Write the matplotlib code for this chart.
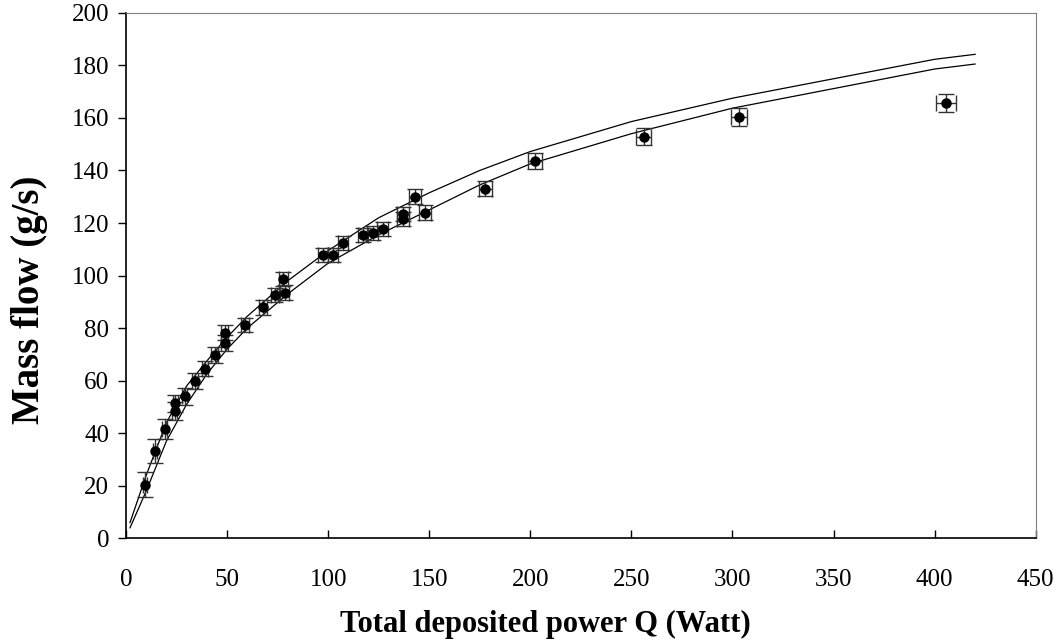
import matplotlib
matplotlib.use("Agg")
import matplotlib.pyplot as plt

# measured points: deposited power Q (W) vs mass flow (g/s)
power = [9.4, 14.2, 19.2, 24.1, 24.3, 29.1, 34.1, 39.0, 43.9, 48.9, 48.9, 58.9,
         67.8, 73.6, 77.7, 78.6, 97.4, 102.3, 107.3, 117.2, 122.1, 127.1, 137.0,
         137.0, 142.9, 148.0, 177.7, 202.5, 256.0, 303.3, 405.8]
flow = [20.4, 33.3, 41.6, 48.5, 51.4, 54.0, 59.8, 64.6, 69.7, 74.2, 78.3, 81.2,
        87.9, 92.6, 98.7, 93.5, 107.8, 107.8, 112.5, 115.5, 116.3, 117.7, 121.5,
        123.4, 130.0, 123.9, 133.0, 143.7, 152.8, 160.3, 165.6]
flow_err = [4.8, 4.6, 3.8, 3.3, 3.3, 3.2, 3.0, 3.0, 3.0, 3.0, 3.0, 2.8, 2.8, 2.8,
            2.8, 2.8, 2.6, 2.6, 2.6, 2.6, 2.6, 2.6, 2.8, 2.8, 2.8, 2.8, 2.9, 3.0,
            3.3, 3.5, 3.5]
power_err = [1.0, 1.0, 1.2, 1.2, 1.2, 1.3, 1.4, 1.5, 1.6, 1.7, 1.7, 1.9, 2.0, 2.1,
             2.2, 2.2, 2.5, 2.5, 2.5, 2.6, 2.7, 2.7, 2.8, 2.8, 2.9, 3.0, 3.3, 3.5,
             3.5, 4.0, 5.0]

# model curves
q_model = [2, 10, 20, 30, 40, 50, 60, 80, 100, 125, 150, 175, 200, 250, 300, 400, 420]
upper = [6, 24, 44, 58, 67.5, 76.5, 84.5, 98, 109.5, 122, 131.5, 140, 147.2, 158.6,
         167.5, 182.3, 184.2]
lower = [4, 18, 37, 51, 62.5, 72, 80, 93, 104.7, 115.5, 125, 134.5, 142.5, 154,
         163.7, 178.6, 180.5]

plt.rcParams['font.family'] = ['Liberation Serif', 'DejaVu Serif']

fig = plt.figure(figsize=(10.56, 6.43), dpi=100)
ax = fig.add_axes([0.1193, 0.1628, 0.8615, 0.8173])

ax.plot(q_model, upper, color='black', lw=0.9)
ax.plot(q_model, lower, color='black', lw=0.9)
ax.errorbar(power, flow, yerr=flow_err, xerr=power_err, fmt='o', color='black',
            ms=6.5, ecolor='#333333', elinewidth=1, capsize=5.5, capthick=1)

ax.set_xlim(0, 450)
ax.set_ylim(0, 200)
ax.set_xticks(range(0, 451, 50))
ax.set_yticks(range(0, 201, 20))

ax.tick_params(axis='x', direction='in', length=6, width=1, pad=22, labelsize=18)
ax.tick_params(axis='y', direction='out', length=6, width=1, pad=6, labelsize=18)
for s in ['top', 'right']:
    ax.spines[s].set_color('#808080')
for s in ['left', 'bottom']:
    ax.spines[s].set_color('black')
    ax.spines[s].set_linewidth(1.2)

fig.text(545 / 1056, 1 - 624 / 643, "Total deposited power Q (Watt)",
         ha='center', va='center', fontsize=22, fontweight='bold')
fig.text(30 / 1056, 1 - 300 / 643, "Mass flow (g/s)", rotation=90,
         ha='center', va='center', fontsize=28, fontweight='bold')

fig.savefig("out.png", dpi=100)
